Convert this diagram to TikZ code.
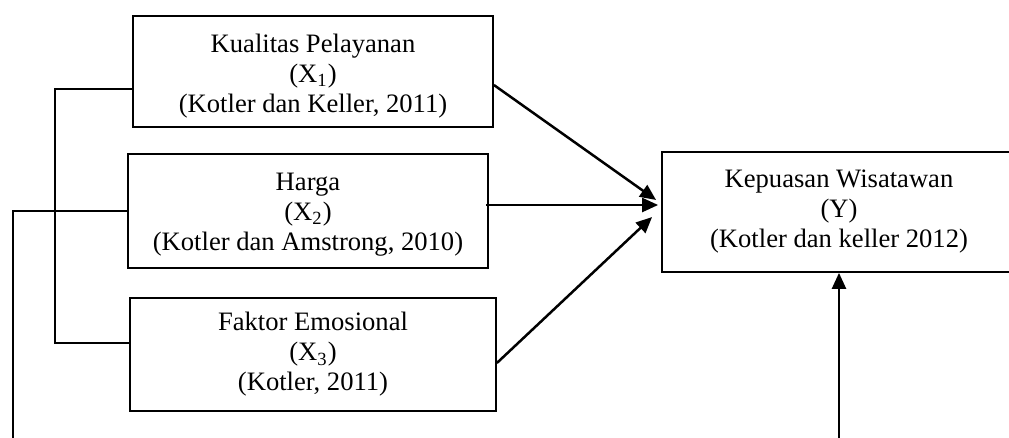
\documentclass[tikz,border=0pt]{standalone}
\usepackage{fontspec}
\setmainfont{Liberation Serif}
\usetikzlibrary{arrows.meta}

\tikzset{
  var/.style={draw, line width=0.9pt, align=center, inner sep=0pt,
    font=\fontsize{13.3}{15}\selectfont},
  arr/.style={-{Stealth[inset=0pt,length=8pt,width=7pt]}, line width=1.25pt},
  lnk/.style={line width=1.1pt}
}

\begin{document}
\begin{tikzpicture}[x=0.5pt,y=-0.5pt]
  \useasboundingbox (0,0) rectangle (1009,438);
  \clip (0,0) rectangle (1009,438);
  % variabel bebas dan terikat
  \node[var, minimum width=180pt, minimum height=55.5pt] (x1) at (313,71.5)
    {\rule{0pt}{14pt}Kualitas Pelayanan\\(X\textsubscript{1})\\(Kotler dan Keller, 2011)};
  \node[var, minimum width=180pt, minimum height=57pt] (x2) at (308,211)
    {\rule{0pt}{12pt}Harga\\(X\textsubscript{2})\\(Kotler dan Amstrong, 2010)};
  \node[var, minimum width=183pt, minimum height=56.5pt] (x3) at (313,354.5)
    {Faktor Emosional\\(X\textsubscript{3})\\(Kotler, 2011)};
  \node[var, minimum width=177pt, minimum height=60pt] (y) at (839,212)
    {Kepuasan Wisatawan\\(Y)\\(Kotler dan keller 2012)};
  % garis penghubung
  \coordinate (j1) at (55,89);
  \coordinate (j3) at (55,343);
  \coordinate (j2) at (13,211);
  \coordinate (f1) at (13,440);
  \coordinate (f2) at (839,440);
  \draw[lnk] (j1 -| x1.west) -- (j1) -- (j3) -- (j3 -| x3.west);
  \draw[lnk] (x2.west) -- (j2) -- (f1);
  \draw[arr] (f2) -- (y.south);
  \path[arr]
    ([yshift=-6.75pt]x1.east) edge ([shift={(-2.5pt,6pt)}]y.west)
    ([shift={(-1.5pt,3pt)}]x2.east) edge ([shift={(-1.5pt,3.5pt)}]y.west)
    ([yshift=-4.25pt]x3.east) edge ([shift={(-4.5pt,-2.5pt)}]y.west);
\end{tikzpicture}
\end{document}
